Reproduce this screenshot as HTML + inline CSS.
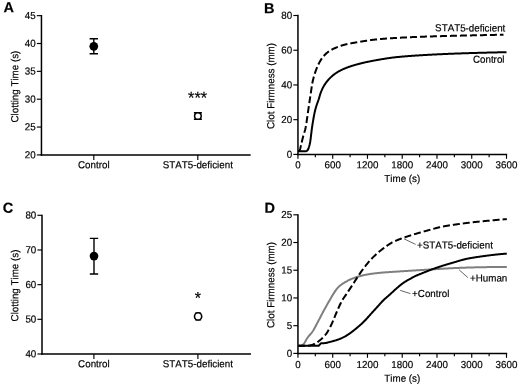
<!DOCTYPE html>
<html><head><meta charset="utf-8"><title>Figure</title>
<style>
html,body{margin:0;padding:0;background:#fff;}
svg{display:block;will-change:transform;}
text{font-family:"Liberation Sans", sans-serif;fill:#000;font-kerning:none;stroke:#000;stroke-width:0.18px;}
</style></head>
<body>
<svg width="520" height="386" viewBox="0 0 520 386">
<rect width="520" height="386" fill="#fff"/>
<line x1="41.45" y1="15.0" x2="41.45" y2="155.65" stroke="#000" stroke-width="1.5"/>
<line x1="36.85" y1="15.65" x2="41.45" y2="15.65" stroke="#000" stroke-width="1.15"/>
<text transform="translate(35.75,18.9) rotate(0.03) scale(1,1.04)" text-anchor="end" font-size="9.8" font-weight="normal" >45</text>
<line x1="36.85" y1="43.5" x2="41.45" y2="43.5" stroke="#000" stroke-width="1.15"/>
<text transform="translate(35.75,46.75) rotate(0.03) scale(1,1.04)" text-anchor="end" font-size="9.8" font-weight="normal" >40</text>
<line x1="36.85" y1="71.35" x2="41.45" y2="71.35" stroke="#000" stroke-width="1.15"/>
<text transform="translate(35.75,74.6) rotate(0.03) scale(1,1.04)" text-anchor="end" font-size="9.8" font-weight="normal" >35</text>
<line x1="36.85" y1="99.2" x2="41.45" y2="99.2" stroke="#000" stroke-width="1.15"/>
<text transform="translate(35.75,102.45) rotate(0.03) scale(1,1.04)" text-anchor="end" font-size="9.8" font-weight="normal" >30</text>
<line x1="36.85" y1="127.05" x2="41.45" y2="127.05" stroke="#000" stroke-width="1.15"/>
<text transform="translate(35.75,130.3) rotate(0.03) scale(1,1.04)" text-anchor="end" font-size="9.8" font-weight="normal" >25</text>
<line x1="36.85" y1="154.9" x2="41.45" y2="154.9" stroke="#000" stroke-width="1.15"/>
<text transform="translate(35.75,158.15) rotate(0.03) scale(1,1.04)" text-anchor="end" font-size="9.8" font-weight="normal" >20</text>
<line x1="40.7" y1="154.9" x2="250.65" y2="154.9" stroke="#000" stroke-width="1.5"/>
<line x1="93.8" y1="154.9" x2="93.8" y2="159.9" stroke="#000" stroke-width="1.15"/>
<text transform="translate(93.8,168.2) rotate(0.03) scale(1,1.04)" text-anchor="middle" font-size="9.8" font-weight="normal" >Control</text>
<line x1="197.8" y1="154.9" x2="197.8" y2="159.9" stroke="#000" stroke-width="1.15"/>
<text transform="translate(197.8,168.2) rotate(0.03) scale(1,1.04)" text-anchor="middle" font-size="9.8" font-weight="normal" >STAT5-deficient</text>
<text transform="translate(18.2,86.6) rotate(-89.97) scale(1,1.04)" text-anchor="middle" font-size="9.8">Clotting Time (s)</text>
<text transform="translate(3.5,12.2) rotate(0.03) scale(1,1.0)" text-anchor="start" font-size="14.5" font-weight="bold" >A</text>
<path d="M93.8,38.8 V53.8 M89.6,38.8 H98.0 M89.6,53.8 H98.0" stroke="#000" stroke-width="1.4" fill="none"/>
<circle cx="93.8" cy="46.3" r="4.35" fill="#000"/>
<path d="M197.9,112.7 V119.3 M193.9,112.7 H201.9 M193.9,119.3 H201.9" stroke="#000" stroke-width="1.4" fill="none"/>
<circle cx="197.9" cy="116" r="3.3" fill="#fff" stroke="#000" stroke-width="1.5"/>
<text transform="translate(197.6,103.6) rotate(0.03) scale(1,1.04)" text-anchor="middle" font-size="16.4" font-weight="normal" stroke="#000" stroke-width="0.35">***</text>
<line x1="42.0" y1="214.65" x2="42.0" y2="354.75" stroke="#000" stroke-width="1.5"/>
<line x1="37.4" y1="215.3" x2="42.0" y2="215.3" stroke="#000" stroke-width="1.15"/>
<text transform="translate(36.3,218.55) rotate(0.03) scale(1,1.04)" text-anchor="end" font-size="9.8" font-weight="normal" >80</text>
<line x1="37.4" y1="249.98" x2="42.0" y2="249.98" stroke="#000" stroke-width="1.15"/>
<text transform="translate(36.3,253.23) rotate(0.03) scale(1,1.04)" text-anchor="end" font-size="9.8" font-weight="normal" >70</text>
<line x1="37.4" y1="284.65" x2="42.0" y2="284.65" stroke="#000" stroke-width="1.15"/>
<text transform="translate(36.3,287.9) rotate(0.03) scale(1,1.04)" text-anchor="end" font-size="9.8" font-weight="normal" >60</text>
<line x1="37.4" y1="319.32" x2="42.0" y2="319.32" stroke="#000" stroke-width="1.15"/>
<text transform="translate(36.3,322.57) rotate(0.03) scale(1,1.04)" text-anchor="end" font-size="9.8" font-weight="normal" >50</text>
<line x1="37.4" y1="354.0" x2="42.0" y2="354.0" stroke="#000" stroke-width="1.15"/>
<text transform="translate(36.3,357.25) rotate(0.03) scale(1,1.04)" text-anchor="end" font-size="9.8" font-weight="normal" >40</text>
<line x1="41.25" y1="354.0" x2="250.95" y2="354.0" stroke="#000" stroke-width="1.5"/>
<line x1="93.9" y1="354.0" x2="93.9" y2="359.0" stroke="#000" stroke-width="1.15"/>
<text transform="translate(93.9,367.2) rotate(0.03) scale(1,1.04)" text-anchor="middle" font-size="9.8" font-weight="normal" >Control</text>
<line x1="197.9" y1="354.0" x2="197.9" y2="359.0" stroke="#000" stroke-width="1.15"/>
<text transform="translate(197.9,367.2) rotate(0.03) scale(1,1.04)" text-anchor="middle" font-size="9.8" font-weight="normal" >STAT5-deficient</text>
<text transform="translate(18.2,285.5) rotate(-89.97) scale(1,1.04)" text-anchor="middle" font-size="9.8">Clotting Time (s)</text>
<text transform="translate(2.8,212.8) rotate(0.03) scale(1,1.0)" text-anchor="start" font-size="14.5" font-weight="bold" >C</text>
<path d="M94.0,238.4 V274.0 M89.8,238.4 H98.2 M89.8,274.0 H98.2" stroke="#000" stroke-width="1.4" fill="none"/>
<circle cx="94.0" cy="256.1" r="4.3" fill="#000"/>
<path d="M198.1,313.1 V319.7 M195.1,313.1 H201.1 M195.1,319.7 H201.1" stroke="#000" stroke-width="1.4" fill="none"/>
<circle cx="198.1" cy="316.4" r="3.6" fill="#fff" stroke="#000" stroke-width="1.6"/>
<text transform="translate(197.8,303.6) rotate(0.03) scale(1,1.04)" text-anchor="middle" font-size="16" font-weight="normal" stroke="#000" stroke-width="0.35">*</text>
<line x1="297.95" y1="14.85" x2="297.95" y2="155.15" stroke="#000" stroke-width="1.5"/>
<line x1="293.35" y1="15.5" x2="297.95" y2="15.5" stroke="#000" stroke-width="1.15"/>
<text transform="translate(292.25,18.75) rotate(0.03) scale(1,1.04)" text-anchor="end" font-size="9.8" font-weight="normal" >80</text>
<line x1="293.35" y1="50.23" x2="297.95" y2="50.23" stroke="#000" stroke-width="1.15"/>
<text transform="translate(292.25,53.48) rotate(0.03) scale(1,1.04)" text-anchor="end" font-size="9.8" font-weight="normal" >60</text>
<line x1="293.35" y1="84.95" x2="297.95" y2="84.95" stroke="#000" stroke-width="1.15"/>
<text transform="translate(292.25,88.2) rotate(0.03) scale(1,1.04)" text-anchor="end" font-size="9.8" font-weight="normal" >40</text>
<line x1="293.35" y1="119.68" x2="297.95" y2="119.68" stroke="#000" stroke-width="1.15"/>
<text transform="translate(292.25,122.93) rotate(0.03) scale(1,1.04)" text-anchor="end" font-size="9.8" font-weight="normal" >20</text>
<line x1="293.35" y1="154.4" x2="297.95" y2="154.4" stroke="#000" stroke-width="1.15"/>
<text transform="translate(292.25,157.65) rotate(0.03) scale(1,1.04)" text-anchor="end" font-size="9.8" font-weight="normal" >0</text>
<line x1="297.2" y1="154.4" x2="507.15" y2="154.4" stroke="#000" stroke-width="1.5"/>
<line x1="297.95" y1="154.4" x2="297.95" y2="158.8" stroke="#000" stroke-width="1.15"/>
<text transform="translate(297.95,168.2) rotate(0.03) scale(1,1.04)" text-anchor="middle" font-size="9.8" font-weight="normal" >0</text>
<line x1="315.33" y1="154.4" x2="315.33" y2="157.2" stroke="#000" stroke-width="1.15"/>
<line x1="332.71" y1="154.4" x2="332.71" y2="158.8" stroke="#000" stroke-width="1.15"/>
<text transform="translate(332.71,168.2) rotate(0.03) scale(1,1.04)" text-anchor="middle" font-size="9.8" font-weight="normal" >600</text>
<line x1="350.09" y1="154.4" x2="350.09" y2="157.2" stroke="#000" stroke-width="1.15"/>
<line x1="367.47" y1="154.4" x2="367.47" y2="158.8" stroke="#000" stroke-width="1.15"/>
<text transform="translate(367.47,168.2) rotate(0.03) scale(1,1.04)" text-anchor="middle" font-size="9.8" font-weight="normal" >1200</text>
<line x1="384.85" y1="154.4" x2="384.85" y2="157.2" stroke="#000" stroke-width="1.15"/>
<line x1="402.23" y1="154.4" x2="402.23" y2="158.8" stroke="#000" stroke-width="1.15"/>
<text transform="translate(402.23,168.2) rotate(0.03) scale(1,1.04)" text-anchor="middle" font-size="9.8" font-weight="normal" >1800</text>
<line x1="419.60" y1="154.4" x2="419.60" y2="157.2" stroke="#000" stroke-width="1.15"/>
<line x1="436.98" y1="154.4" x2="436.98" y2="158.8" stroke="#000" stroke-width="1.15"/>
<text transform="translate(436.98,168.2) rotate(0.03) scale(1,1.04)" text-anchor="middle" font-size="9.8" font-weight="normal" >2400</text>
<line x1="454.36" y1="154.4" x2="454.36" y2="157.2" stroke="#000" stroke-width="1.15"/>
<line x1="471.74" y1="154.4" x2="471.74" y2="158.8" stroke="#000" stroke-width="1.15"/>
<text transform="translate(471.74,168.2) rotate(0.03) scale(1,1.04)" text-anchor="middle" font-size="9.8" font-weight="normal" >3000</text>
<line x1="489.12" y1="154.4" x2="489.12" y2="157.2" stroke="#000" stroke-width="1.15"/>
<line x1="506.50" y1="154.4" x2="506.50" y2="158.8" stroke="#000" stroke-width="1.15"/>
<text transform="translate(506.5,168.2) rotate(0.03) scale(1,1.04)" text-anchor="middle" font-size="9.8" font-weight="normal" >3600</text>
<text transform="translate(402.3,182.1) rotate(0.03) scale(1,1.04)" text-anchor="middle" font-size="9.8" font-weight="normal" >Time (s)</text>
<text transform="translate(274.3,86.0) rotate(-89.97) scale(1,1.04)" text-anchor="middle" font-size="9.8">Clot Firmness (mm)</text>
<text transform="translate(264.0,13.2) rotate(0.03) scale(1,1.0)" text-anchor="start" font-size="14.5" font-weight="bold" >B</text>
<path d="M298.20,151.30 L298.70,151.18 L299.20,150.87 L299.70,150.35 L300.20,148.68 L300.70,146.62 L301.20,144.60 L301.70,142.46 L302.20,140.29 L302.70,138.19 L303.20,136.25 L303.70,134.54 L304.20,132.93 L304.70,131.27 L305.20,129.42 L305.70,127.22 L306.20,124.44 L306.70,121.18 L307.20,117.64 L307.70,114.06 L308.20,110.63 L308.70,107.23 L309.20,103.79 L309.70,100.35 L310.20,96.97 L310.70,93.68 L311.20,90.28 L311.70,86.92 L312.20,83.85 L312.70,81.30 L313.20,79.19 L313.70,77.26 L314.20,75.48 L314.70,73.85 L315.20,72.33 L315.70,70.91 L316.20,69.57 L316.70,68.30 L317.20,67.08 L317.70,65.93 L318.20,64.84 L318.70,63.81 L319.20,62.83 L319.70,61.90 L320.20,61.03 L320.70,60.20 L321.20,59.41 L321.70,58.66 L322.20,57.95 L322.70,57.27 L323.20,56.64 L323.70,56.05 L324.20,55.50 L324.70,54.99 L325.20,54.49 L325.70,54.01 L326.20,53.55 L326.70,53.11 L327.20,52.68 L327.70,52.28 L328.20,51.90 L328.70,51.54 L329.20,51.20 L329.70,50.88 L330.20,50.58 L330.70,50.30 L331.20,50.02 L331.70,49.74 L332.20,49.48 L332.70,49.22 L333.20,48.96 L333.70,48.71 L334.20,48.47 L334.70,48.23 L335.20,48.00 L335.70,47.78 L336.20,47.56 L336.70,47.34 L337.20,47.14 L337.70,46.94 L338.20,46.74 L338.70,46.55 L339.20,46.37 L339.70,46.19 L340.20,46.01 L340.70,45.84 L341.20,45.68 L341.70,45.52 L342.20,45.37 L342.70,45.22 L343.20,45.08 L343.70,44.95 L344.20,44.81 L344.70,44.68 L345.20,44.56 L345.70,44.43 L346.20,44.31 L346.70,44.20 L347.20,44.08 L347.70,43.97 L348.20,43.86 L348.70,43.76 L349.20,43.66 L349.70,43.55 L350.20,43.45 L350.70,43.36 L351.20,43.26 L351.70,43.17 L352.20,43.08 L352.70,42.99 L353.20,42.90 L353.70,42.81 L354.20,42.72 L354.70,42.64 L355.20,42.55 L355.70,42.47 L356.20,42.38 L356.70,42.30 L357.20,42.22 L357.70,42.13 L358.20,42.05 L358.70,41.97 L359.20,41.88 L359.70,41.80 L360.20,41.72 L360.70,41.63 L361.20,41.55 L361.70,41.47 L362.20,41.39 L362.70,41.31 L363.20,41.23 L363.70,41.14 L364.20,41.06 L364.70,40.99 L365.20,40.91 L365.70,40.83 L366.20,40.75 L366.70,40.68 L367.20,40.60 L367.70,40.53 L368.20,40.45 L368.70,40.38 L369.20,40.31 L369.70,40.24 L370.20,40.17 L370.70,40.10 L371.20,40.03 L371.70,39.97 L372.20,39.90 L372.70,39.84 L373.20,39.78 L373.70,39.72 L374.20,39.66 L374.70,39.60 L375.20,39.55 L375.70,39.49 L376.20,39.44 L376.70,39.39 L377.20,39.34 L377.70,39.29 L378.20,39.24 L378.70,39.20 L379.20,39.15 L379.70,39.11 L380.20,39.06 L380.70,39.02 L381.20,38.98 L381.70,38.93 L382.20,38.89 L382.70,38.85 L383.20,38.81 L383.70,38.77 L384.20,38.73 L384.70,38.69 L385.20,38.65 L385.70,38.62 L386.20,38.58 L386.70,38.54 L387.20,38.51 L387.70,38.47 L388.20,38.44 L388.70,38.40 L389.20,38.37 L389.70,38.33 L390.20,38.30 L390.70,38.27 L391.20,38.23 L391.70,38.20 L392.20,38.17 L392.70,38.14 L393.20,38.11 L393.70,38.08 L394.20,38.05 L394.70,38.02 L395.20,37.99 L395.70,37.96 L396.20,37.93 L396.70,37.90 L397.20,37.87 L397.70,37.84 L398.20,37.81 L398.70,37.79 L399.20,37.76 L399.70,37.73 L400.20,37.70 L400.70,37.68 L401.20,37.65 L401.70,37.62 L402.20,37.60 L402.70,37.57 L403.20,37.54 L403.70,37.52 L404.20,37.49 L404.70,37.47 L405.20,37.44 L405.70,37.42 L406.20,37.39 L406.70,37.37 L407.20,37.34 L407.70,37.32 L408.20,37.30 L408.70,37.27 L409.20,37.25 L409.70,37.23 L410.20,37.20 L410.70,37.18 L411.20,37.16 L411.70,37.14 L412.20,37.12 L412.70,37.09 L413.20,37.07 L413.70,37.05 L414.20,37.03 L414.70,37.01 L415.20,36.99 L415.70,36.97 L416.20,36.95 L416.70,36.93 L417.20,36.91 L417.70,36.89 L418.20,36.87 L418.70,36.85 L419.20,36.83 L419.70,36.81 L420.20,36.79 L420.70,36.77 L421.20,36.76 L421.70,36.74 L422.20,36.72 L422.70,36.70 L423.20,36.68 L423.70,36.67 L424.20,36.65 L424.70,36.63 L425.20,36.62 L425.70,36.60 L426.20,36.58 L426.70,36.57 L427.20,36.55 L427.70,36.53 L428.20,36.52 L428.70,36.50 L429.20,36.48 L429.70,36.47 L430.20,36.45 L430.70,36.44 L431.20,36.42 L431.70,36.41 L432.20,36.39 L432.70,36.38 L433.20,36.36 L433.70,36.35 L434.20,36.33 L434.70,36.32 L435.20,36.30 L435.70,36.29 L436.20,36.27 L436.70,36.26 L437.20,36.25 L437.70,36.23 L438.20,36.22 L438.70,36.20 L439.20,36.19 L439.70,36.18 L440.20,36.16 L440.70,36.15 L441.20,36.13 L441.70,36.12 L442.20,36.11 L442.70,36.09 L443.20,36.08 L443.70,36.07 L444.20,36.05 L444.70,36.04 L445.20,36.03 L445.70,36.01 L446.20,36.00 L446.70,35.99 L447.20,35.97 L447.70,35.96 L448.20,35.95 L448.70,35.93 L449.20,35.92 L449.70,35.91 L450.20,35.89 L450.70,35.88 L451.20,35.87 L451.70,35.86 L452.20,35.84 L452.70,35.83 L453.20,35.82 L453.70,35.80 L454.20,35.79 L454.70,35.78 L455.20,35.77 L455.70,35.76 L456.20,35.74 L456.70,35.73 L457.20,35.72 L457.70,35.71 L458.20,35.69 L458.70,35.68 L459.20,35.67 L459.70,35.66 L460.20,35.65 L460.70,35.63 L461.20,35.62 L461.70,35.61 L462.20,35.60 L462.70,35.59 L463.20,35.58 L463.70,35.56 L464.20,35.55 L464.70,35.54 L465.20,35.53 L465.70,35.52 L466.20,35.51 L466.70,35.50 L467.20,35.48 L467.70,35.47 L468.20,35.46 L468.70,35.45 L469.20,35.44 L469.70,35.43 L470.20,35.42 L470.70,35.41 L471.20,35.40 L471.70,35.38 L472.20,35.37 L472.70,35.36 L473.20,35.35 L473.70,35.34 L474.20,35.33 L474.70,35.32 L475.20,35.31 L475.70,35.30 L476.20,35.28 L476.70,35.27 L477.20,35.26 L477.70,35.25 L478.20,35.24 L478.70,35.23 L479.20,35.22 L479.70,35.21 L480.20,35.20 L480.70,35.18 L481.20,35.17 L481.70,35.16 L482.20,35.15 L482.70,35.14 L483.20,35.13 L483.70,35.12 L484.20,35.11 L484.70,35.10 L485.20,35.09 L485.70,35.07 L486.20,35.06 L486.70,35.05 L487.20,35.04 L487.70,35.03 L488.20,35.02 L488.70,35.01 L489.20,35.00 L489.70,34.99 L490.20,34.98 L490.70,34.97 L491.20,34.96 L491.70,34.95 L492.20,34.94 L492.70,34.92 L493.20,34.91 L493.70,34.90 L494.20,34.89 L494.70,34.88 L495.20,34.87 L495.70,34.86 L496.20,34.85 L496.70,34.84 L497.20,34.83 L497.70,34.82 L498.20,34.81 L498.70,34.80 L499.20,34.79 L499.70,34.78 L500.20,34.77 L500.70,34.76 L501.20,34.75 L501.70,34.74 L502.20,34.73 L502.70,34.72 L503.20,34.71 L503.50,34.70" stroke="#000" stroke-width="2" fill="none" stroke-dasharray="7 3"/>
<path d="M298.20,151.20 L298.70,151.20 L299.20,151.20 L299.70,151.20 L300.20,151.20 L300.70,151.20 L301.20,151.20 L301.70,151.20 L302.20,151.20 L302.70,151.20 L303.20,151.20 L303.70,151.20 L304.20,151.20 L304.70,151.20 L305.20,151.20 L305.70,151.20 L306.20,151.14 L306.70,150.91 L307.20,150.56 L307.70,150.04 L308.20,149.05 L308.70,147.77 L309.20,146.29 L309.70,144.38 L310.20,141.90 L310.70,138.29 L311.20,134.04 L311.70,129.86 L312.20,126.39 L312.70,123.19 L313.20,120.12 L313.70,117.22 L314.20,114.56 L314.70,112.17 L315.20,110.09 L315.70,108.25 L316.20,106.58 L316.70,105.02 L317.20,103.50 L317.70,102.08 L318.20,100.73 L318.70,99.30 L319.20,97.66 L319.70,95.94 L320.20,94.27 L320.70,92.80 L321.20,91.51 L321.70,90.30 L322.20,89.16 L322.70,88.10 L323.20,87.12 L323.70,86.23 L324.20,85.39 L324.70,84.60 L325.20,83.85 L325.70,83.14 L326.20,82.47 L326.70,81.82 L327.20,81.20 L327.70,80.60 L328.20,80.02 L328.70,79.45 L329.20,78.90 L329.70,78.37 L330.20,77.85 L330.70,77.35 L331.20,76.87 L331.70,76.41 L332.20,75.97 L332.70,75.54 L333.20,75.14 L333.70,74.75 L334.20,74.37 L334.70,74.00 L335.20,73.64 L335.70,73.29 L336.20,72.96 L336.70,72.63 L337.20,72.31 L337.70,72.00 L338.20,71.70 L338.70,71.41 L339.20,71.13 L339.70,70.86 L340.20,70.60 L340.70,70.34 L341.20,70.09 L341.70,69.85 L342.20,69.61 L342.70,69.38 L343.20,69.16 L343.70,68.94 L344.20,68.73 L344.70,68.52 L345.20,68.31 L345.70,68.11 L346.20,67.92 L346.70,67.72 L347.20,67.53 L347.70,67.35 L348.20,67.16 L348.70,66.98 L349.20,66.81 L349.70,66.63 L350.20,66.46 L350.70,66.30 L351.20,66.13 L351.70,65.97 L352.20,65.81 L352.70,65.66 L353.20,65.50 L353.70,65.35 L354.20,65.21 L354.70,65.06 L355.20,64.91 L355.70,64.77 L356.20,64.63 L356.70,64.49 L357.20,64.35 L357.70,64.21 L358.20,64.08 L358.70,63.94 L359.20,63.81 L359.70,63.68 L360.20,63.55 L360.70,63.42 L361.20,63.30 L361.70,63.18 L362.20,63.05 L362.70,62.93 L363.20,62.81 L363.70,62.70 L364.20,62.58 L364.70,62.47 L365.20,62.36 L365.70,62.24 L366.20,62.14 L366.70,62.03 L367.20,61.92 L367.70,61.82 L368.20,61.71 L368.70,61.61 L369.20,61.51 L369.70,61.41 L370.20,61.31 L370.70,61.21 L371.20,61.11 L371.70,61.02 L372.20,60.92 L372.70,60.83 L373.20,60.73 L373.70,60.64 L374.20,60.55 L374.70,60.46 L375.20,60.36 L375.70,60.27 L376.20,60.18 L376.70,60.09 L377.20,60.00 L377.70,59.91 L378.20,59.82 L378.70,59.74 L379.20,59.65 L379.70,59.56 L380.20,59.48 L380.70,59.39 L381.20,59.31 L381.70,59.23 L382.20,59.14 L382.70,59.06 L383.20,58.98 L383.70,58.90 L384.20,58.82 L384.70,58.75 L385.20,58.67 L385.70,58.59 L386.20,58.52 L386.70,58.44 L387.20,58.36 L387.70,58.28 L388.20,58.21 L388.70,58.13 L389.20,58.06 L389.70,57.98 L390.20,57.91 L390.70,57.84 L391.20,57.77 L391.70,57.70 L392.20,57.63 L392.70,57.57 L393.20,57.51 L393.70,57.45 L394.20,57.39 L394.70,57.33 L395.20,57.28 L395.70,57.23 L396.20,57.17 L396.70,57.12 L397.20,57.07 L397.70,57.02 L398.20,56.97 L398.70,56.93 L399.20,56.88 L399.70,56.83 L400.20,56.78 L400.70,56.74 L401.20,56.69 L401.70,56.65 L402.20,56.60 L402.70,56.56 L403.20,56.52 L403.70,56.47 L404.20,56.43 L404.70,56.39 L405.20,56.35 L405.70,56.31 L406.20,56.27 L406.70,56.23 L407.20,56.19 L407.70,56.15 L408.20,56.11 L408.70,56.07 L409.20,56.03 L409.70,56.00 L410.20,55.96 L410.70,55.92 L411.20,55.89 L411.70,55.85 L412.20,55.81 L412.70,55.78 L413.20,55.74 L413.70,55.71 L414.20,55.68 L414.70,55.64 L415.20,55.61 L415.70,55.57 L416.20,55.54 L416.70,55.51 L417.20,55.48 L417.70,55.44 L418.20,55.41 L418.70,55.38 L419.20,55.35 L419.70,55.32 L420.20,55.29 L420.70,55.26 L421.20,55.23 L421.70,55.20 L422.20,55.17 L422.70,55.14 L423.20,55.11 L423.70,55.08 L424.20,55.05 L424.70,55.02 L425.20,54.99 L425.70,54.96 L426.20,54.93 L426.70,54.90 L427.20,54.88 L427.70,54.85 L428.20,54.82 L428.70,54.79 L429.20,54.77 L429.70,54.74 L430.20,54.71 L430.70,54.69 L431.20,54.66 L431.70,54.64 L432.20,54.61 L432.70,54.58 L433.20,54.56 L433.70,54.53 L434.20,54.51 L434.70,54.48 L435.20,54.46 L435.70,54.43 L436.20,54.41 L436.70,54.38 L437.20,54.36 L437.70,54.34 L438.20,54.31 L438.70,54.29 L439.20,54.27 L439.70,54.24 L440.20,54.22 L440.70,54.20 L441.20,54.17 L441.70,54.15 L442.20,54.13 L442.70,54.11 L443.20,54.09 L443.70,54.06 L444.20,54.04 L444.70,54.02 L445.20,54.00 L445.70,53.98 L446.20,53.96 L446.70,53.93 L447.20,53.91 L447.70,53.89 L448.20,53.87 L448.70,53.85 L449.20,53.83 L449.70,53.81 L450.20,53.79 L450.70,53.77 L451.20,53.75 L451.70,53.73 L452.20,53.71 L452.70,53.69 L453.20,53.67 L453.70,53.66 L454.20,53.64 L454.70,53.62 L455.20,53.60 L455.70,53.58 L456.20,53.56 L456.70,53.54 L457.20,53.52 L457.70,53.51 L458.20,53.49 L458.70,53.47 L459.20,53.45 L459.70,53.43 L460.20,53.42 L460.70,53.40 L461.20,53.38 L461.70,53.36 L462.20,53.35 L462.70,53.33 L463.20,53.31 L463.70,53.29 L464.20,53.28 L464.70,53.26 L465.20,53.24 L465.70,53.23 L466.20,53.21 L466.70,53.19 L467.20,53.18 L467.70,53.16 L468.20,53.15 L468.70,53.13 L469.20,53.11 L469.70,53.10 L470.20,53.08 L470.70,53.07 L471.20,53.05 L471.70,53.04 L472.20,53.02 L472.70,53.01 L473.20,52.99 L473.70,52.98 L474.20,52.96 L474.70,52.95 L475.20,52.93 L475.70,52.92 L476.20,52.91 L476.70,52.89 L477.20,52.88 L477.70,52.86 L478.20,52.85 L478.70,52.84 L479.20,52.82 L479.70,52.81 L480.20,52.79 L480.70,52.78 L481.20,52.77 L481.70,52.75 L482.20,52.74 L482.70,52.73 L483.20,52.72 L483.70,52.70 L484.20,52.69 L484.70,52.68 L485.20,52.66 L485.70,52.65 L486.20,52.64 L486.70,52.63 L487.20,52.61 L487.70,52.60 L488.20,52.59 L488.70,52.58 L489.20,52.56 L489.70,52.55 L490.20,52.54 L490.70,52.53 L491.20,52.52 L491.70,52.51 L492.20,52.49 L492.70,52.48 L493.20,52.47 L493.70,52.46 L494.20,52.45 L494.70,52.44 L495.20,52.43 L495.70,52.41 L496.20,52.40 L496.70,52.39 L497.20,52.38 L497.70,52.37 L498.20,52.36 L498.70,52.35 L499.20,52.34 L499.70,52.33 L500.20,52.32 L500.70,52.31 L501.20,52.30 L501.70,52.29 L502.20,52.28 L502.70,52.27 L503.20,52.26 L503.70,52.25 L504.20,52.24 L504.70,52.23 L505.20,52.22 L505.70,52.21 L506.20,52.21 L506.50,52.20" stroke="#000" stroke-width="2" fill="none" stroke-linejoin="round"/>
<text transform="translate(505.3,31.4) rotate(0.03) scale(1,1.04)" text-anchor="end" font-size="9.8" font-weight="normal" >STAT5-deficient</text>
<text transform="translate(504.5,62.8) rotate(0.03) scale(1,1.04)" text-anchor="end" font-size="9.8" font-weight="normal" >Control</text>
<line x1="297.95" y1="214.15" x2="297.95" y2="354.15" stroke="#000" stroke-width="1.5"/>
<line x1="293.35" y1="214.8" x2="297.95" y2="214.8" stroke="#000" stroke-width="1.15"/>
<text transform="translate(292.25,218.05) rotate(0.03) scale(1,1.04)" text-anchor="end" font-size="9.8" font-weight="normal" >25</text>
<line x1="293.35" y1="242.52" x2="297.95" y2="242.52" stroke="#000" stroke-width="1.15"/>
<text transform="translate(292.25,245.77) rotate(0.03) scale(1,1.04)" text-anchor="end" font-size="9.8" font-weight="normal" >20</text>
<line x1="293.35" y1="270.24" x2="297.95" y2="270.24" stroke="#000" stroke-width="1.15"/>
<text transform="translate(292.25,273.49) rotate(0.03) scale(1,1.04)" text-anchor="end" font-size="9.8" font-weight="normal" >15</text>
<line x1="293.35" y1="297.96" x2="297.95" y2="297.96" stroke="#000" stroke-width="1.15"/>
<text transform="translate(292.25,301.21) rotate(0.03) scale(1,1.04)" text-anchor="end" font-size="9.8" font-weight="normal" >10</text>
<line x1="293.35" y1="325.68" x2="297.95" y2="325.68" stroke="#000" stroke-width="1.15"/>
<text transform="translate(292.25,328.93) rotate(0.03) scale(1,1.04)" text-anchor="end" font-size="9.8" font-weight="normal" >5</text>
<line x1="293.35" y1="353.4" x2="297.95" y2="353.4" stroke="#000" stroke-width="1.15"/>
<text transform="translate(292.25,356.65) rotate(0.03) scale(1,1.04)" text-anchor="end" font-size="9.8" font-weight="normal" >0</text>
<line x1="297.2" y1="353.4" x2="507.15" y2="353.4" stroke="#000" stroke-width="1.5"/>
<line x1="297.95" y1="353.4" x2="297.95" y2="357.8" stroke="#000" stroke-width="1.15"/>
<text transform="translate(297.95,367.9) rotate(0.03) scale(1,1.04)" text-anchor="middle" font-size="9.8" font-weight="normal" >0</text>
<line x1="315.33" y1="353.4" x2="315.33" y2="356.2" stroke="#000" stroke-width="1.15"/>
<line x1="332.71" y1="353.4" x2="332.71" y2="357.8" stroke="#000" stroke-width="1.15"/>
<text transform="translate(332.71,367.9) rotate(0.03) scale(1,1.04)" text-anchor="middle" font-size="9.8" font-weight="normal" >600</text>
<line x1="350.09" y1="353.4" x2="350.09" y2="356.2" stroke="#000" stroke-width="1.15"/>
<line x1="367.47" y1="353.4" x2="367.47" y2="357.8" stroke="#000" stroke-width="1.15"/>
<text transform="translate(367.47,367.9) rotate(0.03) scale(1,1.04)" text-anchor="middle" font-size="9.8" font-weight="normal" >1200</text>
<line x1="384.85" y1="353.4" x2="384.85" y2="356.2" stroke="#000" stroke-width="1.15"/>
<line x1="402.23" y1="353.4" x2="402.23" y2="357.8" stroke="#000" stroke-width="1.15"/>
<text transform="translate(402.23,367.9) rotate(0.03) scale(1,1.04)" text-anchor="middle" font-size="9.8" font-weight="normal" >1800</text>
<line x1="419.60" y1="353.4" x2="419.60" y2="356.2" stroke="#000" stroke-width="1.15"/>
<line x1="436.98" y1="353.4" x2="436.98" y2="357.8" stroke="#000" stroke-width="1.15"/>
<text transform="translate(436.98,367.9) rotate(0.03) scale(1,1.04)" text-anchor="middle" font-size="9.8" font-weight="normal" >2400</text>
<line x1="454.36" y1="353.4" x2="454.36" y2="356.2" stroke="#000" stroke-width="1.15"/>
<line x1="471.74" y1="353.4" x2="471.74" y2="357.8" stroke="#000" stroke-width="1.15"/>
<text transform="translate(471.74,367.9) rotate(0.03) scale(1,1.04)" text-anchor="middle" font-size="9.8" font-weight="normal" >3000</text>
<line x1="489.12" y1="353.4" x2="489.12" y2="356.2" stroke="#000" stroke-width="1.15"/>
<line x1="506.50" y1="353.4" x2="506.50" y2="357.8" stroke="#000" stroke-width="1.15"/>
<text transform="translate(506.5,367.9) rotate(0.03) scale(1,1.04)" text-anchor="middle" font-size="9.8" font-weight="normal" >3600</text>
<text transform="translate(402.3,381.8) rotate(0.03) scale(1,1.04)" text-anchor="middle" font-size="9.8" font-weight="normal" >Time (s)</text>
<text transform="translate(274.3,285.0) rotate(-89.97) scale(1,1.04)" text-anchor="middle" font-size="9.8">Clot Firmness (mm)</text>
<text transform="translate(264.6,212.8) rotate(0.03) scale(1,1.0)" text-anchor="start" font-size="14.5" font-weight="bold" >D</text>
<path d="M298.20,345.80 L298.70,345.79 L299.20,345.77 L299.70,345.73 L300.20,345.68 L300.70,345.62 L301.20,345.54 L301.70,345.44 L302.20,345.32 L302.70,345.07 L303.20,344.53 L303.70,343.90 L304.20,343.24 L304.70,342.48 L305.20,341.64 L305.70,340.76 L306.20,339.87 L306.70,339.01 L307.20,338.19 L307.70,337.46 L308.20,336.80 L308.70,336.18 L309.20,335.59 L309.70,335.03 L310.20,334.47 L310.70,333.90 L311.20,333.31 L311.70,332.69 L312.20,332.03 L312.70,331.30 L313.20,330.52 L313.70,329.69 L314.20,328.81 L314.70,327.90 L315.20,326.97 L315.70,326.02 L316.20,325.06 L316.70,324.10 L317.20,323.15 L317.70,322.21 L318.20,321.28 L318.70,320.34 L319.20,319.38 L319.70,318.42 L320.20,317.46 L320.70,316.49 L321.20,315.53 L321.70,314.57 L322.20,313.61 L322.70,312.66 L323.20,311.73 L323.70,310.80 L324.20,309.88 L324.70,308.97 L325.20,308.07 L325.70,307.17 L326.20,306.27 L326.70,305.38 L327.20,304.49 L327.70,303.61 L328.20,302.73 L328.70,301.86 L329.20,300.99 L329.70,300.13 L330.20,299.26 L330.70,298.39 L331.20,297.53 L331.70,296.67 L332.20,295.82 L332.70,294.99 L333.20,294.18 L333.70,293.40 L334.20,292.63 L334.70,291.87 L335.20,291.13 L335.70,290.41 L336.20,289.72 L336.70,289.07 L337.20,288.46 L337.70,287.89 L338.20,287.34 L338.70,286.82 L339.20,286.34 L339.70,285.89 L340.20,285.47 L340.70,285.08 L341.20,284.71 L341.70,284.36 L342.20,284.02 L342.70,283.69 L343.20,283.37 L343.70,283.07 L344.20,282.78 L344.70,282.49 L345.20,282.22 L345.70,281.94 L346.20,281.66 L346.70,281.37 L347.20,281.06 L347.70,280.76 L348.20,280.47 L348.70,280.20 L349.20,279.95 L349.70,279.72 L350.20,279.50 L350.70,279.28 L351.20,279.06 L351.70,278.85 L352.20,278.65 L352.70,278.45 L353.20,278.25 L353.70,278.06 L354.20,277.88 L354.70,277.70 L355.20,277.52 L355.70,277.35 L356.20,277.19 L356.70,277.03 L357.20,276.88 L357.70,276.73 L358.20,276.58 L358.70,276.44 L359.20,276.31 L359.70,276.18 L360.20,276.04 L360.70,275.92 L361.20,275.79 L361.70,275.67 L362.20,275.55 L362.70,275.43 L363.20,275.32 L363.70,275.21 L364.20,275.10 L364.70,274.99 L365.20,274.89 L365.70,274.79 L366.20,274.69 L366.70,274.60 L367.20,274.51 L367.70,274.42 L368.20,274.33 L368.70,274.25 L369.20,274.17 L369.70,274.09 L370.20,274.01 L370.70,273.93 L371.20,273.86 L371.70,273.79 L372.20,273.72 L372.70,273.65 L373.20,273.58 L373.70,273.51 L374.20,273.44 L374.70,273.38 L375.20,273.32 L375.70,273.26 L376.20,273.20 L376.70,273.14 L377.20,273.09 L377.70,273.03 L378.20,272.98 L378.70,272.93 L379.20,272.88 L379.70,272.83 L380.20,272.78 L380.70,272.74 L381.20,272.69 L381.70,272.65 L382.20,272.61 L382.70,272.57 L383.20,272.53 L383.70,272.49 L384.20,272.45 L384.70,272.41 L385.20,272.37 L385.70,272.34 L386.20,272.30 L386.70,272.27 L387.20,272.23 L387.70,272.20 L388.20,272.16 L388.70,272.13 L389.20,272.10 L389.70,272.07 L390.20,272.03 L390.70,272.00 L391.20,271.97 L391.70,271.94 L392.20,271.90 L392.70,271.87 L393.20,271.84 L393.70,271.81 L394.20,271.77 L394.70,271.74 L395.20,271.71 L395.70,271.67 L396.20,271.64 L396.70,271.61 L397.20,271.57 L397.70,271.54 L398.20,271.50 L398.70,271.47 L399.20,271.44 L399.70,271.41 L400.20,271.37 L400.70,271.34 L401.20,271.31 L401.70,271.28 L402.20,271.24 L402.70,271.21 L403.20,271.18 L403.70,271.15 L404.20,271.11 L404.70,271.08 L405.20,271.05 L405.70,271.02 L406.20,270.99 L406.70,270.95 L407.20,270.92 L407.70,270.89 L408.20,270.86 L408.70,270.83 L409.20,270.80 L409.70,270.77 L410.20,270.73 L410.70,270.70 L411.20,270.67 L411.70,270.64 L412.20,270.61 L412.70,270.58 L413.20,270.54 L413.70,270.51 L414.20,270.48 L414.70,270.45 L415.20,270.42 L415.70,270.39 L416.20,270.35 L416.70,270.32 L417.20,270.29 L417.70,270.26 L418.20,270.23 L418.70,270.20 L419.20,270.17 L419.70,270.14 L420.20,270.10 L420.70,270.07 L421.20,270.04 L421.70,270.01 L422.20,269.98 L422.70,269.95 L423.20,269.92 L423.70,269.89 L424.20,269.86 L424.70,269.82 L425.20,269.79 L425.70,269.76 L426.20,269.73 L426.70,269.70 L427.20,269.67 L427.70,269.64 L428.20,269.61 L428.70,269.58 L429.20,269.55 L429.70,269.52 L430.20,269.49 L430.70,269.46 L431.20,269.43 L431.70,269.39 L432.20,269.36 L432.70,269.33 L433.20,269.30 L433.70,269.27 L434.20,269.24 L434.70,269.20 L435.20,269.17 L435.70,269.14 L436.20,269.11 L436.70,269.07 L437.20,269.04 L437.70,269.01 L438.20,268.98 L438.70,268.94 L439.20,268.91 L439.70,268.88 L440.20,268.85 L440.70,268.82 L441.20,268.79 L441.70,268.75 L442.20,268.72 L442.70,268.69 L443.20,268.66 L443.70,268.63 L444.20,268.60 L444.70,268.57 L445.20,268.54 L445.70,268.51 L446.20,268.48 L446.70,268.46 L447.20,268.43 L447.70,268.40 L448.20,268.38 L448.70,268.35 L449.20,268.32 L449.70,268.30 L450.20,268.27 L450.70,268.25 L451.20,268.23 L451.70,268.20 L452.20,268.18 L452.70,268.16 L453.20,268.14 L453.70,268.12 L454.20,268.10 L454.70,268.07 L455.20,268.05 L455.70,268.03 L456.20,268.01 L456.70,267.99 L457.20,267.97 L457.70,267.95 L458.20,267.93 L458.70,267.91 L459.20,267.89 L459.70,267.87 L460.20,267.85 L460.70,267.83 L461.20,267.81 L461.70,267.79 L462.20,267.77 L462.70,267.75 L463.20,267.73 L463.70,267.71 L464.20,267.69 L464.70,267.67 L465.20,267.66 L465.70,267.64 L466.20,267.62 L466.70,267.60 L467.20,267.59 L467.70,267.57 L468.20,267.55 L468.70,267.54 L469.20,267.52 L469.70,267.51 L470.20,267.49 L470.70,267.48 L471.20,267.46 L471.70,267.45 L472.20,267.43 L472.70,267.42 L473.20,267.41 L473.70,267.39 L474.20,267.38 L474.70,267.37 L475.20,267.36 L475.70,267.35 L476.20,267.33 L476.70,267.32 L477.20,267.31 L477.70,267.30 L478.20,267.29 L478.70,267.28 L479.20,267.27 L479.70,267.26 L480.20,267.25 L480.70,267.24 L481.20,267.23 L481.70,267.22 L482.20,267.21 L482.70,267.20 L483.20,267.19 L483.70,267.19 L484.20,267.18 L484.70,267.17 L485.20,267.16 L485.70,267.15 L486.20,267.14 L486.70,267.13 L487.20,267.12 L487.70,267.11 L488.20,267.10 L488.70,267.10 L489.20,267.09 L489.70,267.08 L490.20,267.07 L490.70,267.06 L491.20,267.05 L491.70,267.05 L492.20,267.04 L492.70,267.03 L493.20,267.02 L493.70,267.02 L494.20,267.01 L494.70,267.00 L495.20,267.00 L495.70,266.99 L496.20,266.98 L496.70,266.98 L497.20,266.97 L497.70,266.97 L498.20,266.96 L498.70,266.96 L499.20,266.95 L499.70,266.95 L500.20,266.94 L500.70,266.94 L501.20,266.93 L501.70,266.93 L502.20,266.92 L502.70,266.92 L503.20,266.92 L503.70,266.91 L504.20,266.91 L504.70,266.91 L505.20,266.91 L505.70,266.90 L506.20,266.90 L506.70,266.90 L506.80,266.90" stroke="#7f7f7f" stroke-width="2" fill="none"/>
<path d="M298.20,345.80 L298.70,345.80 L299.20,345.80 L299.70,345.80 L300.20,345.79 L300.70,345.79 L301.20,345.79 L301.70,345.78 L302.20,345.78 L302.70,345.77 L303.20,345.76 L303.70,345.75 L304.20,345.74 L304.70,345.73 L305.20,345.72 L305.70,345.71 L306.20,345.70 L306.70,345.68 L307.20,345.67 L307.70,345.65 L308.20,345.63 L308.70,345.61 L309.20,345.59 L309.70,345.52 L310.20,345.42 L310.70,345.29 L311.20,345.15 L311.70,344.99 L312.20,344.84 L312.70,344.66 L313.20,344.47 L313.70,344.25 L314.20,344.02 L314.70,343.77 L315.20,343.51 L315.70,343.23 L316.20,342.94 L316.70,342.63 L317.20,342.30 L317.70,341.95 L318.20,341.59 L318.70,341.21 L319.20,340.82 L319.70,340.42 L320.20,340.01 L320.70,339.59 L321.20,339.15 L321.70,338.71 L322.20,338.24 L322.70,337.77 L323.20,337.27 L323.70,336.75 L324.20,336.21 L324.70,335.65 L325.20,335.06 L325.70,334.44 L326.20,333.80 L326.70,333.11 L327.20,332.36 L327.70,331.55 L328.20,330.70 L328.70,329.81 L329.20,328.89 L329.70,327.95 L330.20,327.00 L330.70,326.01 L331.20,324.98 L331.70,323.90 L332.20,322.79 L332.70,321.66 L333.20,320.52 L333.70,319.37 L334.20,318.19 L334.70,316.96 L335.20,315.72 L335.70,314.48 L336.20,313.25 L336.70,312.06 L337.20,310.91 L337.70,309.77 L338.20,308.62 L338.70,307.49 L339.20,306.38 L339.70,305.29 L340.20,304.23 L340.70,303.21 L341.20,302.24 L341.70,301.32 L342.20,300.45 L342.70,299.62 L343.20,298.82 L343.70,298.04 L344.20,297.29 L344.70,296.55 L345.20,295.83 L345.70,295.10 L346.20,294.38 L346.70,293.65 L347.20,292.90 L347.70,292.14 L348.20,291.39 L348.70,290.63 L349.20,289.88 L349.70,289.13 L350.20,288.38 L350.70,287.63 L351.20,286.87 L351.70,286.12 L352.20,285.35 L352.70,284.58 L353.20,283.80 L353.70,283.02 L354.20,282.23 L354.70,281.44 L355.20,280.66 L355.70,279.88 L356.20,279.11 L356.70,278.35 L357.20,277.60 L357.70,276.85 L358.20,276.11 L358.70,275.36 L359.20,274.62 L359.70,273.88 L360.20,273.14 L360.70,272.41 L361.20,271.69 L361.70,270.97 L362.20,270.26 L362.70,269.57 L363.20,268.88 L363.70,268.20 L364.20,267.54 L364.70,266.88 L365.20,266.25 L365.70,265.62 L366.20,264.99 L366.70,264.37 L367.20,263.76 L367.70,263.16 L368.20,262.56 L368.70,261.97 L369.20,261.40 L369.70,260.82 L370.20,260.26 L370.70,259.71 L371.20,259.17 L371.70,258.63 L372.20,258.11 L372.70,257.60 L373.20,257.10 L373.70,256.61 L374.20,256.12 L374.70,255.65 L375.20,255.17 L375.70,254.71 L376.20,254.25 L376.70,253.80 L377.20,253.36 L377.70,252.92 L378.20,252.49 L378.70,252.06 L379.20,251.64 L379.70,251.23 L380.20,250.82 L380.70,250.42 L381.20,250.03 L381.70,249.64 L382.20,249.25 L382.70,248.87 L383.20,248.50 L383.70,248.12 L384.20,247.75 L384.70,247.38 L385.20,247.01 L385.70,246.64 L386.20,246.28 L386.70,245.93 L387.20,245.58 L387.70,245.23 L388.20,244.89 L388.70,244.56 L389.20,244.24 L389.70,243.92 L390.20,243.61 L390.70,243.31 L391.20,243.02 L391.70,242.74 L392.20,242.46 L392.70,242.20 L393.20,241.95 L393.70,241.71 L394.20,241.47 L394.70,241.23 L395.20,241.01 L395.70,240.79 L396.20,240.57 L396.70,240.36 L397.20,240.15 L397.70,239.95 L398.20,239.75 L398.70,239.55 L399.20,239.36 L399.70,239.17 L400.20,238.98 L400.70,238.80 L401.20,238.62 L401.70,238.43 L402.20,238.25 L402.70,238.08 L403.20,237.90 L403.70,237.72 L404.20,237.54 L404.70,237.36 L405.20,237.19 L405.70,237.01 L406.20,236.84 L406.70,236.67 L407.20,236.50 L407.70,236.34 L408.20,236.17 L408.70,236.01 L409.20,235.85 L409.70,235.69 L410.20,235.53 L410.70,235.38 L411.20,235.22 L411.70,235.06 L412.20,234.91 L412.70,234.76 L413.20,234.60 L413.70,234.45 L414.20,234.30 L414.70,234.15 L415.20,234.00 L415.70,233.85 L416.20,233.70 L416.70,233.55 L417.20,233.40 L417.70,233.25 L418.20,233.11 L418.70,232.96 L419.20,232.81 L419.70,232.67 L420.20,232.52 L420.70,232.38 L421.20,232.24 L421.70,232.10 L422.20,231.95 L422.70,231.81 L423.20,231.67 L423.70,231.53 L424.20,231.39 L424.70,231.25 L425.20,231.11 L425.70,230.98 L426.20,230.84 L426.70,230.70 L427.20,230.56 L427.70,230.43 L428.20,230.29 L428.70,230.15 L429.20,230.02 L429.70,229.88 L430.20,229.75 L430.70,229.61 L431.20,229.47 L431.70,229.33 L432.20,229.19 L432.70,229.05 L433.20,228.91 L433.70,228.77 L434.20,228.63 L434.70,228.49 L435.20,228.35 L435.70,228.21 L436.20,228.08 L436.70,227.94 L437.20,227.81 L437.70,227.68 L438.20,227.55 L438.70,227.43 L439.20,227.31 L439.70,227.19 L440.20,227.08 L440.70,226.97 L441.20,226.86 L441.70,226.76 L442.20,226.66 L442.70,226.56 L443.20,226.47 L443.70,226.37 L444.20,226.28 L444.70,226.19 L445.20,226.10 L445.70,226.02 L446.20,225.93 L446.70,225.85 L447.20,225.76 L447.70,225.68 L448.20,225.60 L448.70,225.52 L449.20,225.44 L449.70,225.36 L450.20,225.29 L450.70,225.21 L451.20,225.14 L451.70,225.06 L452.20,224.99 L452.70,224.92 L453.20,224.84 L453.70,224.77 L454.20,224.70 L454.70,224.63 L455.20,224.56 L455.70,224.48 L456.20,224.41 L456.70,224.34 L457.20,224.27 L457.70,224.20 L458.20,224.13 L458.70,224.06 L459.20,223.99 L459.70,223.92 L460.20,223.85 L460.70,223.79 L461.20,223.72 L461.70,223.65 L462.20,223.58 L462.70,223.52 L463.20,223.45 L463.70,223.38 L464.20,223.32 L464.70,223.25 L465.20,223.19 L465.70,223.13 L466.20,223.06 L466.70,223.00 L467.20,222.94 L467.70,222.87 L468.20,222.81 L468.70,222.75 L469.20,222.69 L469.70,222.63 L470.20,222.57 L470.70,222.51 L471.20,222.45 L471.70,222.39 L472.20,222.34 L472.70,222.28 L473.20,222.22 L473.70,222.17 L474.20,222.11 L474.70,222.05 L475.20,222.00 L475.70,221.95 L476.20,221.89 L476.70,221.84 L477.20,221.79 L477.70,221.73 L478.20,221.68 L478.70,221.63 L479.20,221.58 L479.70,221.53 L480.20,221.48 L480.70,221.43 L481.20,221.38 L481.70,221.34 L482.20,221.29 L482.70,221.24 L483.20,221.19 L483.70,221.15 L484.20,221.10 L484.70,221.05 L485.20,221.00 L485.70,220.96 L486.20,220.91 L486.70,220.87 L487.20,220.82 L487.70,220.77 L488.20,220.73 L488.70,220.68 L489.20,220.64 L489.70,220.59 L490.20,220.55 L490.70,220.50 L491.20,220.45 L491.70,220.41 L492.20,220.36 L492.70,220.32 L493.20,220.27 L493.70,220.23 L494.20,220.18 L494.70,220.14 L495.20,220.09 L495.70,220.05 L496.20,220.00 L496.70,219.96 L497.20,219.92 L497.70,219.87 L498.20,219.83 L498.70,219.78 L499.20,219.74 L499.70,219.70 L500.20,219.65 L500.70,219.61 L501.20,219.57 L501.70,219.53 L502.20,219.48 L502.70,219.44 L503.20,219.40 L503.70,219.36 L504.20,219.32 L504.70,219.27 L505.20,219.23 L505.70,219.19 L506.20,219.15 L506.70,219.11 L506.80,219.10" stroke="#000" stroke-width="2" fill="none" stroke-dasharray="7 3"/>
<path d="M298.20,345.80 L298.70,345.80 L299.20,345.80 L299.70,345.80 L300.20,345.80 L300.70,345.80 L301.20,345.80 L301.70,345.80 L302.20,345.80 L302.70,345.80 L303.20,345.80 L303.70,345.80 L304.20,345.80 L304.70,345.80 L305.20,345.80 L305.70,345.80 L306.20,345.80 L306.70,345.80 L307.20,345.80 L307.70,345.80 L308.20,345.80 L308.70,345.80 L309.20,345.80 L309.70,345.80 L310.20,345.80 L310.70,345.80 L311.20,345.80 L311.70,345.80 L312.20,345.80 L312.70,345.80 L313.20,345.80 L313.70,345.80 L314.20,345.80 L314.70,345.80 L315.20,345.80 L315.70,345.80 L316.20,345.80 L316.70,345.80 L317.20,345.80 L317.70,345.80 L318.20,345.80 L318.70,345.78 L319.20,345.36 L319.70,344.71 L320.20,344.09 L320.70,343.51 L321.20,343.34 L321.70,343.27 L322.20,343.22 L322.70,343.19 L323.20,343.17 L323.70,343.15 L324.20,343.13 L324.70,343.11 L325.20,343.06 L325.70,343.00 L326.20,342.90 L326.70,342.79 L327.20,342.67 L327.70,342.54 L328.20,342.40 L328.70,342.26 L329.20,342.13 L329.70,342.00 L330.20,341.88 L330.70,341.75 L331.20,341.62 L331.70,341.49 L332.20,341.35 L332.70,341.22 L333.20,341.08 L333.70,340.94 L334.20,340.79 L334.70,340.64 L335.20,340.49 L335.70,340.33 L336.20,340.18 L336.70,340.01 L337.20,339.85 L337.70,339.68 L338.20,339.50 L338.70,339.32 L339.20,339.14 L339.70,338.95 L340.20,338.74 L340.70,338.54 L341.20,338.32 L341.70,338.10 L342.20,337.87 L342.70,337.64 L343.20,337.40 L343.70,337.15 L344.20,336.90 L344.70,336.63 L345.20,336.36 L345.70,336.07 L346.20,335.78 L346.70,335.48 L347.20,335.17 L347.70,334.85 L348.20,334.52 L348.70,334.19 L349.20,333.85 L349.70,333.50 L350.20,333.14 L350.70,332.78 L351.20,332.42 L351.70,332.04 L352.20,331.66 L352.70,331.28 L353.20,330.89 L353.70,330.49 L354.20,330.09 L354.70,329.69 L355.20,329.28 L355.70,328.87 L356.20,328.45 L356.70,328.04 L357.20,327.62 L357.70,327.19 L358.20,326.77 L358.70,326.34 L359.20,325.91 L359.70,325.48 L360.20,325.04 L360.70,324.60 L361.20,324.15 L361.70,323.69 L362.20,323.23 L362.70,322.76 L363.20,322.28 L363.70,321.80 L364.20,321.30 L364.70,320.79 L365.20,320.27 L365.70,319.74 L366.20,319.20 L366.70,318.65 L367.20,318.10 L367.70,317.54 L368.20,316.98 L368.70,316.42 L369.20,315.85 L369.70,315.30 L370.20,314.74 L370.70,314.19 L371.20,313.64 L371.70,313.09 L372.20,312.54 L372.70,311.98 L373.20,311.43 L373.70,310.87 L374.20,310.32 L374.70,309.76 L375.20,309.21 L375.70,308.66 L376.20,308.11 L376.70,307.56 L377.20,307.01 L377.70,306.46 L378.20,305.91 L378.70,305.35 L379.20,304.80 L379.70,304.24 L380.20,303.68 L380.70,303.13 L381.20,302.59 L381.70,302.05 L382.20,301.52 L382.70,301.00 L383.20,300.50 L383.70,300.00 L384.20,299.53 L384.70,299.06 L385.20,298.60 L385.70,298.15 L386.20,297.71 L386.70,297.27 L387.20,296.83 L387.70,296.40 L388.20,295.96 L388.70,295.53 L389.20,295.09 L389.70,294.65 L390.20,294.20 L390.70,293.75 L391.20,293.29 L391.70,292.83 L392.20,292.36 L392.70,291.90 L393.20,291.43 L393.70,290.97 L394.20,290.51 L394.70,290.05 L395.20,289.60 L395.70,289.15 L396.20,288.71 L396.70,288.27 L397.20,287.84 L397.70,287.41 L398.20,286.99 L398.70,286.56 L399.20,286.13 L399.70,285.71 L400.20,285.30 L400.70,284.89 L401.20,284.48 L401.70,284.09 L402.20,283.71 L402.70,283.34 L403.20,282.98 L403.70,282.63 L404.20,282.30 L404.70,281.98 L405.20,281.66 L405.70,281.35 L406.20,281.05 L406.70,280.76 L407.20,280.47 L407.70,280.19 L408.20,279.91 L408.70,279.63 L409.20,279.35 L409.70,279.08 L410.20,278.81 L410.70,278.54 L411.20,278.27 L411.70,278.00 L412.20,277.73 L412.70,277.47 L413.20,277.20 L413.70,276.95 L414.20,276.69 L414.70,276.44 L415.20,276.19 L415.70,275.95 L416.20,275.71 L416.70,275.48 L417.20,275.26 L417.70,275.04 L418.20,274.82 L418.70,274.61 L419.20,274.41 L419.70,274.21 L420.20,274.01 L420.70,273.81 L421.20,273.62 L421.70,273.42 L422.20,273.23 L422.70,273.03 L423.20,272.84 L423.70,272.64 L424.20,272.44 L424.70,272.24 L425.20,272.04 L425.70,271.83 L426.20,271.63 L426.70,271.43 L427.20,271.23 L427.70,271.03 L428.20,270.83 L428.70,270.63 L429.20,270.43 L429.70,270.24 L430.20,270.05 L430.70,269.86 L431.20,269.68 L431.70,269.49 L432.20,269.31 L432.70,269.13 L433.20,268.94 L433.70,268.76 L434.20,268.58 L434.70,268.41 L435.20,268.23 L435.70,268.06 L436.20,267.88 L436.70,267.71 L437.20,267.54 L437.70,267.37 L438.20,267.20 L438.70,267.03 L439.20,266.86 L439.70,266.70 L440.20,266.53 L440.70,266.37 L441.20,266.21 L441.70,266.05 L442.20,265.89 L442.70,265.73 L443.20,265.58 L443.70,265.42 L444.20,265.27 L444.70,265.11 L445.20,264.96 L445.70,264.81 L446.20,264.65 L446.70,264.50 L447.20,264.35 L447.70,264.20 L448.20,264.06 L448.70,263.91 L449.20,263.76 L449.70,263.61 L450.20,263.47 L450.70,263.32 L451.20,263.17 L451.70,263.03 L452.20,262.88 L452.70,262.74 L453.20,262.59 L453.70,262.44 L454.20,262.29 L454.70,262.14 L455.20,261.99 L455.70,261.84 L456.20,261.69 L456.70,261.54 L457.20,261.39 L457.70,261.24 L458.20,261.09 L458.70,260.94 L459.20,260.80 L459.70,260.65 L460.20,260.51 L460.70,260.37 L461.20,260.22 L461.70,260.09 L462.20,259.95 L462.70,259.82 L463.20,259.68 L463.70,259.55 L464.20,259.43 L464.70,259.31 L465.20,259.19 L465.70,259.07 L466.20,258.96 L466.70,258.85 L467.20,258.74 L467.70,258.64 L468.20,258.54 L468.70,258.44 L469.20,258.35 L469.70,258.25 L470.20,258.16 L470.70,258.07 L471.20,257.98 L471.70,257.89 L472.20,257.81 L472.70,257.72 L473.20,257.64 L473.70,257.56 L474.20,257.48 L474.70,257.40 L475.20,257.32 L475.70,257.24 L476.20,257.16 L476.70,257.09 L477.20,257.01 L477.70,256.94 L478.20,256.87 L478.70,256.79 L479.20,256.72 L479.70,256.65 L480.20,256.58 L480.70,256.51 L481.20,256.44 L481.70,256.37 L482.20,256.30 L482.70,256.23 L483.20,256.16 L483.70,256.09 L484.20,256.02 L484.70,255.95 L485.20,255.89 L485.70,255.82 L486.20,255.75 L486.70,255.69 L487.20,255.62 L487.70,255.56 L488.20,255.49 L488.70,255.43 L489.20,255.37 L489.70,255.31 L490.20,255.25 L490.70,255.19 L491.20,255.13 L491.70,255.07 L492.20,255.01 L492.70,254.95 L493.20,254.89 L493.70,254.84 L494.20,254.78 L494.70,254.73 L495.20,254.67 L495.70,254.62 L496.20,254.57 L496.70,254.52 L497.20,254.47 L497.70,254.42 L498.20,254.36 L498.70,254.32 L499.20,254.27 L499.70,254.22 L500.20,254.17 L500.70,254.12 L501.20,254.08 L501.70,254.03 L502.20,253.99 L502.70,253.94 L503.20,253.90 L503.70,253.85 L504.20,253.81 L504.70,253.77 L505.20,253.73 L505.70,253.69 L506.20,253.65 L506.70,253.61 L506.80,253.60" stroke="#000" stroke-width="2" fill="none"/>
<path d="M404,238.8 L415.6,244.4 M459.1,269.8 L467.9,277.6 M400.2,290.4 L410.4,293.6" stroke="#555" stroke-width="0.9" fill="none"/>
<text transform="translate(417.0,248.4) rotate(0.03) scale(1,1.04)" text-anchor="start" font-size="9.8" font-weight="normal" >+STAT5-deficient</text>
<text transform="translate(470.0,281.5) rotate(0.03) scale(1,1.04)" text-anchor="start" font-size="9.8" font-weight="normal" >+Human</text>
<text transform="translate(412.1,297.0) rotate(0.03) scale(1,1.04)" text-anchor="start" font-size="9.8" font-weight="normal" >+Control</text>
</svg>
</body></html>
